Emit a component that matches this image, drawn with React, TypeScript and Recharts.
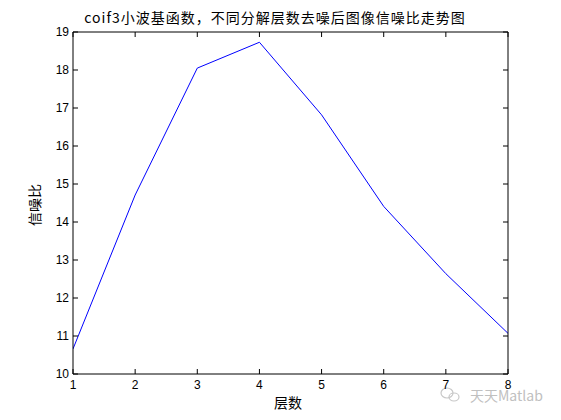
import { LineChart, Line, XAxis, YAxis, Customized } from 'recharts';

const levels = [1, 2, 3, 4, 5, 6, 7, 8];
const snr = [10.66, 14.71, 18.05, 18.73, 16.82, 14.41, 12.64, 11.07];
const xTicks = [1, 2, 3, 4, 5, 6, 7, 8];
const yTicks = [10, 11, 12, 13, 14, 15, 16, 17, 18, 19];

const title = 'coif3小波基函数，不同分解层数去噪后图像信噪比走势图';
const xLabel = '层数';
const yLabel = '信噪比';
const watermark = '天天Matlab';

const data = levels.map((x, i) => ({ x, y: snr[i] }));

const tickFont = { fontSize: 12, fill: '#000', fontFamily: 'Liberation Sans, Arial, sans-serif' };
const cjk = '"Noto Sans CJK SC", sans-serif';

const blank = () => <g />;

function Texts() {
  return (
    <g>
      <text x={275} y={23} textAnchor="middle" fontSize={14} letterSpacing={1} fontFamily={cjk} fill="#000">
        {title}
      </text>
      <text x={288} y={408} textAnchor="middle" fontSize={14} fontFamily={cjk} fill="#000">
        {xLabel}
      </text>
      <text
        x={34}
        y={205}
        textAnchor="middle"
        dominantBaseline="central"
        fontSize={14}
        fontFamily={cjk}
        fill="#000"
        transform="rotate(-90 34 205)"
      >
        {yLabel}
      </text>
      <g stroke="#c8c8c8" fill="none" strokeWidth={1.2}>
        <ellipse cx={447} cy={393} rx={6} ry={5} />
        <ellipse cx={454} cy={397} rx={5} ry={4} />
      </g>
      <text x={470} y={401} fontSize={14} fontFamily={cjk} fill="#c0c0c0">
        {watermark}
      </text>
    </g>
  );
}

export default function App() {
  return (
    <div style={{ position: 'absolute', left: 0, top: 0, width: 561, height: 420, background: '#fff' }}>
      <LineChart width={561} height={420} data={data} margin={{ top: 22, right: 43, bottom: 16, left: 33 }}>
        <XAxis
          dataKey="x"
          type="number"
          domain={[1, 8]}
          ticks={xTicks}
          allowDataOverflow
          height={30}
          stroke="#000"
          tickSize={-5}
          tickMargin={11}
          tick={tickFont}
        />
        <XAxis
          xAxisId="top"
          orientation="top"
          dataKey="x"
          type="number"
          domain={[1, 8]}
          ticks={xTicks}
          allowDataOverflow
          height={10}
          stroke="#000"
          tickSize={-5}
          tick={blank}
        />
        <YAxis
          type="number"
          domain={[10, 19]}
          ticks={yTicks}
          allowDataOverflow
          width={40}
          stroke="#000"
          tickSize={-5}
          tickMargin={9}
          tick={tickFont}
        />
        <YAxis
          yAxisId="right"
          orientation="right"
          type="number"
          domain={[10, 19]}
          ticks={yTicks}
          allowDataOverflow
          width={10}
          stroke="#000"
          tickSize={-5}
          tick={blank}
        />
        <Line
          xAxisId="top"
          yAxisId="right"
          dataKey="y"
          stroke="none"
          dot={false}
          activeDot={false}
          legendType="none"
          isAnimationActive={false}
        />
        <Line
          dataKey="y"
          stroke="#0000ff"
          strokeWidth={1}
          dot={false}
          activeDot={false}
          isAnimationActive={false}
        />
        <Customized component={Texts} />
      </LineChart>
    </div>
  );
}
